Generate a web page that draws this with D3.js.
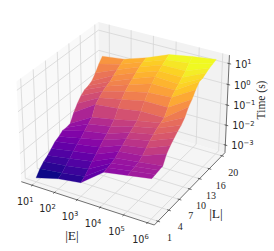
<!DOCTYPE html>
<html><head><meta charset="utf-8"><script src="https://cdn.jsdelivr.net/npm/d3@7"></script>
<style>html,body{margin:0;padding:0;background:#fff}svg{display:block}</style></head><body><svg id="c" width="274" height="251"></svg>
<script>
const logE=[1,2,3,4,5,6];
const sizeL=[1,2,3,4,5,6,7,8,9,10,11,12,13,14,15,16,17,18,19];
const logTime=[
[-3.19,-2.88,-2.72,-1.86,-1.66,-1.46],
[-2.91,-2.77,-2.58,-1.81,-1.62,-1.43],
[-2.71,-2.58,-2.38,-1.76,-1.57,-1.40],
[-2.58,-2.38,-2.19,-1.67,-1.52,-1.37],
[-2.39,-2.19,-2.00,-1.52,-1.38,-0.96],
[-2.20,-2.00,-1.81,-1.38,-1.19,-0.74],
[-2.11,-1.86,-1.62,-1.23,-0.99,-0.56],
[-1.96,-1.67,-1.47,-1.09,-0.85,-0.38],
[-1.97,-1.47,-1.28,-0.95,-0.71,-0.25],
[-1.92,-1.30,-1.09,-0.83,-0.61,-0.03],
[-1.53,-0.82,-0.71,-0.52,-0.52,0.30],
[-1.23,-0.64,-0.42,-0.18,-0.18,0.52],
[-0.99,-0.47,-0.18,0.08,0.15,0.81],
[-0.84,-0.37,0.01,0.35,0.35,1.04],
[-0.79,-0.28,0.15,0.54,0.49,1.07],
[-0.69,-0.13,0.30,0.68,0.66,1.17],
[-0.44,0.01,0.44,0.83,0.83,1.26],
[-0.13,0.15,0.54,0.94,1.06,1.32],
[0.12,0.26,0.61,1.05,1.24,1.39]];
const tickE=[1,2,3,4,5,6], tickL=[1,4,7,10,13,16,20], tickT=[-3,-2,-1,0,1];
const sup=n=>String(n).replace("-","\u2212");
const svg=d3.select("#c");
const bx=1.1905,bz=0.8929;
const X=d3.scaleLinear([0.5,6.28],[0,1]),Y=d3.scaleLinear([0,21],[0,1]),Z=d3.scaleLinear([-3.39,1.4],[0,1]);
const sx=d3.scaleLinear([-1,1],[125-128,125+128]),sy=d3.scaleLinear([-1,1],[118.6+127.7,118.6-127.7]);
function P(a,b,c){const x=(a-.5)*bx,y=(b-.5)*bx,z=(c-.5)*bz;
 const u=.866*x+.5*y,v=-.25*x+.433*y+.866*z,w=.433*x-.75*y+.5*z,f=10/(10-w);
 return [sx(u*f),sy(v*f)];}
const line=d3.line();
const poly=p=>line(p.map(q=>P(...q)))+"Z";
svg.append("path").attr("d",poly([[0,0,0],[1,0,0],[1,1,0],[0,1,0]])).attr("fill","#f5f5f5");
svg.append("path").attr("d",poly([[0,0,0],[0,1,0],[0,1,1],[0,0,1]])).attr("fill","#f9f9f9");
svg.append("path").attr("d",poly([[0,1,0],[1,1,0],[1,1,1],[0,1,1]])).attr("fill","#f2f2f2");
const grid=svg.append("g").attr("fill","none").attr("stroke","#d6d6d6").attr("stroke-width",.8);
tickE.forEach(e=>grid.append("path").attr("d",line([[X(e),0,0],[X(e),1,0],[X(e),1,1]].map(q=>P(...q)))));
tickL.forEach(l=>grid.append("path").attr("d",line([[1,Y(l),0],[0,Y(l),0],[0,Y(l),1]].map(q=>P(...q)))));
tickT.forEach(t=>grid.append("path").attr("d",line([[0,0,Z(t)],[0,1,Z(t)],[1,1,Z(t)]].map(q=>P(...q)))));
const ax=svg.append("g").attr("fill","none").attr("stroke","#333").attr("stroke-width",.7);
ax.append("path").attr("d",line([[0,0,0],[1,0,0],[1,1,0],[1,1,1]].map(q=>P(...q))));
tickE.forEach(e=>ax.append("path").attr("d",line([[X(e),-.015,0],[X(e),.012,0]].map(q=>P(...q)))));
tickL.forEach(l=>ax.append("path").attr("d",line([[1.015,Y(l),0],[.988,Y(l),0]].map(q=>P(...q)))));
tickT.forEach(t=>ax.append("path").attr("d",line([[1.015,1,Z(t)],[.988,1,Z(t)]].map(q=>P(...q)))));
// surface
const mean=[];
for(let r=0;r<sizeL.length-1;r++)for(let c=0;c<logE.length-1;c++)mean.push(d3.mean([logTime[r][c],logTime[r][c+1],logTime[r+1][c],logTime[r+1][c+1]]));
const lo=d3.min(mean),hi=d3.max(mean);
const col=d3.scaleSequential([lo,hi-0.15],d3.interpolatePlasma).clamp(true);
const s=svg.append("g");
for(let r=sizeL.length-2;r>=0;r--)for(let c=0;c<logE.length-1;c++){
 const q=[[c,r],[c+1,r],[c+1,r+1],[c,r+1]].map(([i,j])=>[X(logE[i]),Y(sizeL[j]),Z(logTime[j][i])]);
 const f=col(d3.mean([logTime[r][c],logTime[r][c+1],logTime[r+1][c],logTime[r+1][c+1]]));
 s.append("path").attr("d",poly(q)).attr("fill",f).attr("stroke",f).attr("stroke-width",.3);
}
function pow(x,y,n,anchor){const t=svg.append("text").attr("x",x).attr("y",y).attr("text-anchor",anchor||"middle").attr("font-family","DejaVu Sans").attr("font-size",9.6).attr("fill","#262626");
 t.append("tspan").text("10");t.append("tspan").attr("dy",-3.6).attr("font-size",6.8).text(sup(n));}
tickE.forEach(e=>{const p=P(X(e),0,0);pow(p[0]-7,p[1]+20,e);});
tickT.forEach(t=>{const p=P(1,1,Z(t));pow(p[0]+6,p[1]+4,t,"start");});
tickL.forEach(l=>{const p=P(1,Y(l),0);svg.append("text").attr("x",p[0]+11.5).attr("y",p[1]+20).attr("text-anchor","middle").attr("font-family","Liberation Serif").attr("font-size",10).attr("fill","#262626").text(l);});
const lab=(x,y,t,rot,fs)=>svg.append("text").attr("transform",`translate(${x},${y})`+(rot?" rotate(-90)":"")).attr("text-anchor","middle").attr("font-family","Liberation Serif").attr("font-size",fs).attr("fill","#262626").text(t);
lab(72,239.5,"|E|",false,13.5);lab(216,218,"|L|",false,13.5);lab(265,100,"Time (s)",true,11.5);
</script></body></html>
